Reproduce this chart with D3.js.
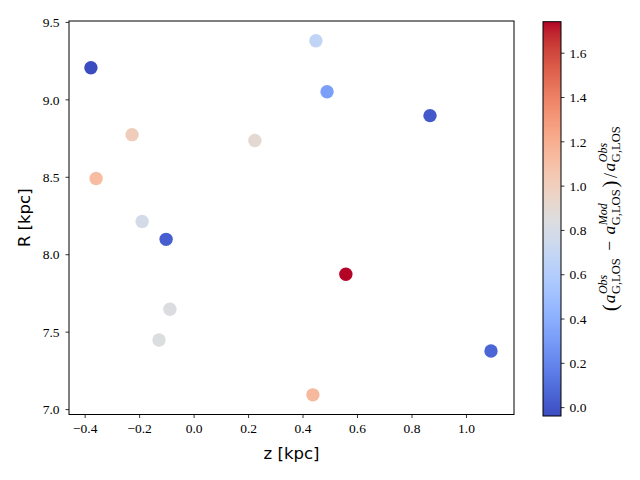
<!DOCTYPE html>
<html>
<head>
<meta charset="utf-8">
<script src="https://cdn.jsdelivr.net/npm/d3@7"></script>
<style>
  body { margin: 0; background: white; }
  svg { display: block; }
</style>
</head>
<body>
<div id="vis"></div>
<script>
// data
const z_kpc = [-0.377, 0.449, 0.490, 0.868, -0.226, 0.225, -0.358, -0.189, -0.101, 0.559, -0.087, -0.127, 1.092, 0.438];
const R_kpc = [9.204, 9.378, 9.049, 8.895, 8.772, 8.734, 8.489, 8.212, 8.096, 7.871, 7.645, 7.446, 7.375, 7.092];
const acc_ratio = [-0.04, 0.67, 0.32, 0.01, 1.01, 0.90, 1.12, 0.78, 0.03, 1.74, 0.83, 0.84, 0.06, 1.14];

const x_ticks = [-0.4, -0.2, 0.0, 0.2, 0.4, 0.6, 0.8, 1.0];
const y_ticks = [7.0, 7.5, 8.0, 8.5, 9.0, 9.5];
const c_ticks = [0.0, 0.2, 0.4, 0.6, 0.8, 1.0, 1.2, 1.4, 1.6];

// matplotlib coolwarm anchor colours
const COOLWARM = [
  [59,76,192],[68,90,204],[77,104,215],[87,117,225],[98,130,234],[108,142,241],
  [119,154,247],[130,165,251],[141,176,254],[152,185,255],[163,194,255],[174,201,253],
  [184,208,249],[194,213,244],[204,217,238],[213,219,230],[221,221,221],[229,216,209],
  [236,211,197],[241,204,185],[245,196,173],[247,187,160],[247,177,148],[247,166,135],
  [244,154,123],[241,141,111],[236,127,99],[229,112,88],[222,96,77],[213,80,66],
  [203,62,56],[192,40,47],[180,4,38]
].map(c => d3.rgb(c[0], c[1], c[2]).toString());
const coolwarm = d3.piecewise(d3.interpolateRgb, COOLWARM);

const FRAME_WIDTH = 640;
const FRAME_HEIGHT = 480;
const AX = {left: 69, right: 514, top: 21, bottom: 414.5};
const CB = {left: 543, right: 561, top: 21.7, bottom: 416};

const TICK_FONT = "Liberation Serif";
const LABEL_FONT = "DejaVu Sans";

const FRAME = d3.select("#vis")
  .append("svg")
    .attr("width", FRAME_WIDTH)
    .attr("height", FRAME_HEIGHT);

const X_SCALE = d3.scaleLinear().domain([-0.4575, 1.1764]).range([AX.left, AX.right]);
const Y_SCALE = d3.scaleLinear().domain([6.965, 9.506]).range([AX.bottom, AX.top]);

const cExtent = d3.extent(acc_ratio);
const C_SCALE = d3.scaleSequential(coolwarm).domain(cExtent);
const C_AXIS_SCALE = d3.scaleLinear().domain(cExtent).range([CB.bottom, CB.top]);

const fmt = d3.format(".1f");

// points
FRAME.append("g")
  .selectAll("circle")
  .data(z_kpc.map((z, i) => ({z: z, R: R_kpc[i], c: acc_ratio[i]})))
  .enter()
  .append("circle")
    .attr("cx", d => X_SCALE(d.z))
    .attr("cy", d => Y_SCALE(d.R))
    .attr("r", 6.7)
    .attr("fill", d => C_SCALE(d.c));

// axes
const xAxis = FRAME.append("g")
  .attr("transform", "translate(0," + AX.bottom + ")")
  .call(d3.axisBottom(X_SCALE).tickValues(x_ticks).tickFormat(fmt).tickSizeOuter(0).tickSize(3.5).tickPadding(5));

const yAxis = FRAME.append("g")
  .attr("transform", "translate(" + AX.left + ",0)")
  .call(d3.axisLeft(Y_SCALE).tickValues(y_ticks).tickFormat(fmt).tickSizeOuter(0).tickSize(3.5).tickPadding(6));

[xAxis, yAxis].forEach(a => {
  a.attr("font-family", TICK_FONT).attr("font-size", 13.5);
  a.select(".domain").remove();
  a.selectAll("line").attr("stroke", "black").attr("stroke-width", 0.8);
  a.selectAll("text").attr("fill", "black");
});
yAxis.selectAll("text").attr("dy", "0.35em");

// frame around plot
FRAME.append("rect")
  .attr("x", AX.left)
  .attr("y", AX.top)
  .attr("width", AX.right - AX.left)
  .attr("height", AX.bottom - AX.top)
  .attr("fill", "none")
  .attr("stroke", "black")
  .attr("stroke-width", 1);

// axis labels
FRAME.append("text")
  .attr("x", (AX.left + AX.right) / 2)
  .attr("y", 459)
  .attr("text-anchor", "middle")
  .attr("font-family", LABEL_FONT)
  .attr("font-size", 16.5)
  .text("z [kpc]");

FRAME.append("text")
  .attr("transform", "translate(30," + (AX.top + AX.bottom) / 2 + ") rotate(-90)")
  .attr("text-anchor", "middle")
  .attr("font-family", LABEL_FONT)
  .attr("font-size", 16.5)
  .text("R [kpc]");

// colorbar
const grad = FRAME.append("defs")
  .append("linearGradient")
    .attr("id", "cbgrad")
    .attr("x1", 0).attr("y1", 1).attr("x2", 0).attr("y2", 0);

grad.selectAll("stop")
  .data(d3.range(0, 1.0001, 1 / 32))
  .enter()
  .append("stop")
    .attr("offset", d => d)
    .attr("stop-color", d => coolwarm(d));

FRAME.append("rect")
  .attr("x", CB.left)
  .attr("y", CB.top)
  .attr("width", CB.right - CB.left)
  .attr("height", CB.bottom - CB.top)
  .attr("fill", "url(#cbgrad)")
  .attr("stroke", "black")
  .attr("stroke-width", 1);

const cAxis = FRAME.append("g")
  .attr("transform", "translate(" + CB.right + ",0)")
  .call(d3.axisRight(C_AXIS_SCALE).tickValues(c_ticks).tickFormat(fmt).tickSizeOuter(0).tickSize(3.5).tickPadding(5));
cAxis.attr("font-family", TICK_FONT).attr("font-size", 13.5);
cAxis.select(".domain").remove();
cAxis.selectAll("line").attr("stroke", "black").attr("stroke-width", 0.8);
cAxis.selectAll("text").attr("fill", "black").attr("dy", "0.35em");

// colorbar label, built piece by piece and rotated
const cLabel = FRAME.append("g");
const pieces = [
  {t: "(", size: 21, pad: 1},
  {t: "a", it: true, sup: "Obs", sub: "G,LOS"},
  {t: "−", pad: 6.5},
  {t: "a", it: true, sup: "Mod", sub: "G,LOS"},
  {t: ")", size: 21, pad: 1},
  {t: "/", size: 18, pad: 1.5},
  {t: "a", it: true, sup: "Obs", sub: "G,LOS"}
];
let cursor = 0;
pieces.forEach(p => {
  cursor += p.pad || 0;
  const main = cLabel.append("text")
    .attr("x", cursor)
    .attr("y", p.size ? 2 : 0)
    .attr("font-family", TICK_FONT)
    .attr("font-size", p.size || 17.5)
    .attr("font-style", p.it ? "italic" : "normal")
    .text(p.t);
  cursor += main.node().getComputedTextLength() + (p.pad || 0);
  if (p.sup) {
    const sup = cLabel.append("text")
      .attr("x", cursor + 0.5)
      .attr("y", -8)
      .attr("font-family", TICK_FONT)
      .attr("font-size", 12)
      .attr("font-style", "italic")
      .text(p.sup);
    const sub = cLabel.append("text")
      .attr("x", cursor + 0.5)
      .attr("y", 5)
      .attr("font-family", TICK_FONT)
      .attr("font-size", 12.5)
      .text(p.sub);
    cursor += Math.max(sup.node().getComputedTextLength(), sub.node().getComputedTextLength()) + 1.5;
  }
});
cLabel.attr("transform", "translate(615," + ((CB.top + CB.bottom) / 2 + cursor / 2) + ") rotate(-90)");
</script>
</body>
</html>
